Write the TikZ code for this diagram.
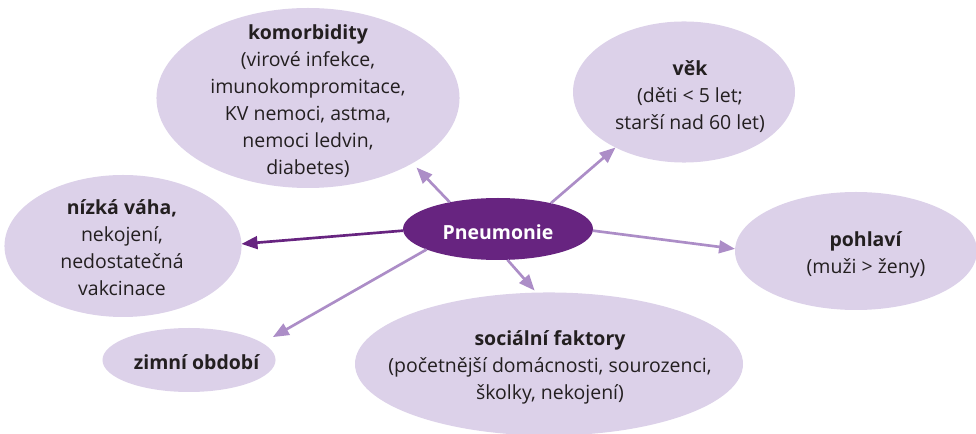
\documentclass[tikz,border=0pt]{standalone}
\usepackage{fontspec}
\setmainfont{Open Sans}
\usetikzlibrary{shapes.geometric,arrows.meta}
\definecolor{lila}{RGB}{220,209,233}
\definecolor{fialova}{RGB}{103,36,128}
\definecolor{sipka}{RGB}{172,141,199}
\definecolor{textc}{RGB}{35,31,32}

\begin{document}
\begin{tikzpicture}[x=0.75pt,y=0.75pt,yscale=-1,xscale=1,
  blob/.style={ellipse,fill=lila,draw=none,inner sep=0pt,outer sep=0pt},
  popis/.style={align=center,font=\fontsize{14.6}{20.25}\selectfont,text=textc,inner sep=0pt},
  sip/.style={draw=sipka,line width=2pt,-{Triangle[length=12pt,width=9.5pt]}}]
\useasboundingbox (0,0) rectangle (976,434);

%Ellipses
\node [blob,minimum width=227.3pt,minimum height=135pt] (kom) at (308,98) {};
\node [blob,minimum width=166.5pt,minimum height=105.8pt] (vek) at (684,92) {};
\node [blob,minimum width=177.8pt,minimum height=106.5pt] (niz) at (123,246) {};
\node [blob,minimum width=181.5pt,minimum height=88.5pt] (pohl) at (856,251) {};
\node [blob,minimum width=129.8pt,minimum height=48pt] (zim) at (189,360) {};
\node [blob,minimum width=291pt,minimum height=107.3pt] (soc) at (549,364) {};
\node [blob,fill=fialova,minimum width=142.5pt,minimum height=46.5pt] (pn) at (498,229) {};

% Text Node
\node [popis] (komt) at (308,101.5) {\textbf{komorbidity}\\(virové infekce,\\imunokompromitace,\\KV nemoci, astma,\\nemoci ledvin,\\diabetes)};
% Text Node
\node [popis] (vekt) at (690,97) {\textbf{věk}\\(děti < 5 let;\\starší nad 60 let)};
% Text Node
\node [popis] (nizt) at (122,247.5) {\textbf{nízká váha,}\\nekojení,\\nedostatečná\\vakcinace};
% Text Node
\node [popis] (pohlt) at (866,255) {\textbf{pohlaví}\\(muži > ženy)};
% Text Node
\node [popis] (zimt) at (197,362) {\textbf{zimní období}};
% Text Node
\node [popis] (soct) at (550,367) {\textbf{sociální faktory}\\(početnější domácnosti, sourozenci,\\školky, nekojení)};
% Text Node
\node [popis,text=white] (pnt) at (498,232) {\textbf{Pneumonie}};

%Arrows
\draw [sip,shorten >=4.5pt] (pn.151.6) -- (kom.-32.6);
\draw [sip] (pn.26.6) -- (vek.219);
\draw [sip] (pn.-1.8) -- (pohl.179.5);
\draw [sip,draw=fialova] (pn.181.2) -- (niz.1.4);
\draw [sip,shorten >=9pt] (pn.196.4) -- (zim.13.2);
\draw [sip,shorten >=2pt] (pn.-73) -- (soc.100.6);

\end{tikzpicture}
\end{document}
